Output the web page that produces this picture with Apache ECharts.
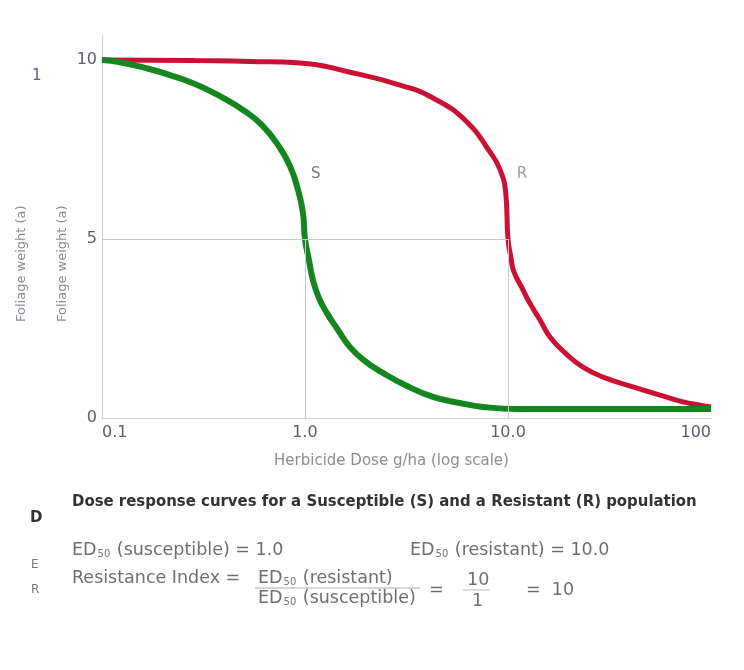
<!DOCTYPE html>
<html>
<head>
<meta charset="utf-8">
<script src="https://cdn.jsdelivr.net/npm/echarts@6/dist/echarts.min.js"></script>
<style>
html,body{margin:0;padding:0;background:#fff;}
#chart{width:744px;height:670px;}
</style>
</head>
<body>
<div id="chart"></div>
<script>
// ---- Data ----
const xTickLabels = ['0.1', '1.0', '10.0', '100'];
const yTickValues = [0, 5, 10];
const susceptibleCurve = [
  [0.1, 10.0], [0.1227, 9.94], [0.1629, 9.78], [0.2163, 9.58], [0.2871, 9.33],
  [0.381, 8.99], [0.506, 8.57], [0.614, 8.18], [0.736, 7.63], [0.843, 7.04],
  [0.924, 6.37], [0.977, 5.73], [1.0, 5.0], [1.046, 4.41], [1.095, 3.85],
  [1.172, 3.35], [1.283, 2.93], [1.454, 2.46], [1.666, 1.98], [1.975, 1.59],
  [2.423, 1.26], [3.109, 0.92], [4.271, 0.59], [5.80, 0.42], [7.53, 0.31],
  [11.07, 0.25], [28.4, 0.25], [100, 0.25]
];
const resistantCurve = [
  [0.1, 10.0], [0.2871, 9.99], [0.536, 9.96], [0.944, 9.92], [1.666, 9.66],
  [2.94, 9.30], [4.271, 8.94], [6.28, 8.27], [8.15, 7.43], [9.1, 6.96],
  [9.75, 6.28], [10.0, 5.0], [10.35, 4.47], [10.7, 4.08], [11.86, 3.58],
  [12.8, 3.21], [14.38, 2.74], [16.1, 2.26], [19.1, 1.82], [23.4, 1.42],
  [30.1, 1.12], [41.3, 0.87], [56.1, 0.64], [72.8, 0.45], [88.3, 0.36], [100, 0.31]
];
const ed50Susceptible = 1.0;
const ed50Resistant = 10.0;
const seriesLabels = ['S', 'R'];
const labelPoints = [[1.13, 6.8], [11.7, 6.8]];

const txt = '#5a5e70';
const ff = 'DejaVu Sans';
const rich = {
  sub: { fontSize: 10, fontFamily: ff, fill: '#777', padding: [8, 1, 0, 1] }
};
function t(text, x, y, extra) {
  return {
    type: 'text', x: x, y: y,
    style: Object.assign({ text: text, fontFamily: ff, fontSize: 17.5, fill: '#6e6e6e', verticalAlign: 'middle', rich: rich }, extra || {})
  };
}

const chart = echarts.init(document.getElementById('chart'));
chart.setOption({
  animation: false,
  backgroundColor: '#fff',
  grid: { left: 102, right: 33, top: 35, bottom: 252 },
  xAxis: {
    type: 'log', logBase: 10, min: 0.1, max: 100,
    name: 'Herbicide Dose g/ha (log scale)', nameLocation: 'middle', nameGap: 36,
    nameTextStyle: { fontFamily: ff, fontSize: 15, color: '#8a8a9a', padding: [0, 30, 0, 0] },
    axisLine: { lineStyle: { color: '#cfcfe0', width: 1 } },
    axisTick: { show: false },
    splitLine: { show: false },
    axisLabel: {
      fontFamily: ff, fontSize: 16, color: txt, margin: 7,
      alignMinLabel: 'left', alignMaxLabel: 'right',
      formatter: (v, i) => xTickLabels[i] !== undefined ? xTickLabels[i] : ''
    }
  },
  yAxis: {
    type: 'value', min: 0, max: 10.7, interval: 5,
    axisLine: { show: true, lineStyle: { color: '#cfcfe0', width: 1 } },
    axisTick: { show: false },
    splitLine: { show: false },
    axisLabel: {
      fontFamily: ff, fontSize: 16, color: txt, margin: 5,
      formatter: v => yTickValues.indexOf(v) >= 0 ? String(v) : ''
    }
  },
  series: [
    {
      name: 'S', type: 'line', data: susceptibleCurve, smooth: 0.5, showSymbol: false,
      lineStyle: { color: '#14861e', width: 6 }, z: 3,
      markLine: {
        silent: true, symbol: 'none', label: { show: false },
        lineStyle: { color: '#c8c8dc', width: 1, type: 'solid' },
        data: [
          [{ coord: [ed50Susceptible, 5] }, { coord: [ed50Susceptible, 0] }]
        ]
      },
      markPoint: {
        symbol: 'circle', symbolSize: 0,
        label: { show: true, formatter: seriesLabels[0], fontFamily: ff, fontSize: 15, color: '#707488' },
        data: [{ coord: labelPoints[0] }]
      }
    },
    {
      name: 'R', type: 'line', data: resistantCurve, smooth: 0.5, showSymbol: false,
      lineStyle: { color: '#cc1034', width: 5 }, z: 2,
      markLine: {
        silent: true, symbol: 'none', label: { show: false },
        lineStyle: { color: '#c8c8dc', width: 1, type: 'solid' },
        data: [
          [{ coord: [0.1, 5] }, { coord: [ed50Resistant, 5] }],
          [{ coord: [ed50Resistant, 5] }, { coord: [ed50Resistant, 0] }]
        ]
      },
      markPoint: {
        symbol: 'circle', symbolSize: 0,
        label: { show: true, formatter: seriesLabels[1], fontFamily: ff, fontSize: 15, color: '#9a9aa6' },
        data: [{ coord: labelPoints[1] }]
      }
    }
  ],
  graphic: [
    { type: 'text', x: 15, y: 322, rotation: Math.PI / 2,
      style: { text: 'Foliage weight (a)', fontFamily: ff, fontSize: 13, fill: '#8a8a96' } },
    { type: 'text', x: 56, y: 322, rotation: Math.PI / 2,
      style: { text: 'Foliage weight (a)', fontFamily: ff, fontSize: 13, fill: '#8a8a96' } },
    t('1', 32, 76, { fill: '#5a5e80', fontSize: 15 }),
    t('D', 30, 518, { fill: '#333', fontWeight: 'bold', fontSize: 15 }),
    t('E', 31, 565, { fill: '#777', fontSize: 12 }),
    t('R', 31, 590, { fill: '#777', fontSize: 12 }),
    t('Dose response curves for a Susceptible (S) and a Resistant (R) population', 72, 502,
      { fill: '#333', fontWeight: 'bold', fontSize: 16.6, fontFamily: 'DejaVu Sans Condensed' }),
    t('ED{sub|50} (susceptible) = 1.0', 72, 550),
    t('ED{sub|50} (resistant) = 10.0', 410, 550),
    t('Resistance Index =', 72, 578),
    t('ED{sub|50} (resistant)', 258, 578),
    { type: 'line', shape: { x1: 255, y1: 588, x2: 420, y2: 588 }, style: { stroke: '#aaa', lineWidth: 1 } },
    t('ED{sub|50} (susceptible)', 258, 598),
    t('=', 429, 590),
    t('10', 467, 580),
    { type: 'line', shape: { x1: 463, y1: 590, x2: 490, y2: 590 }, style: { stroke: '#bbb', lineWidth: 1 } },
    t('1', 472, 601),
    t('=  10', 526, 590)
  ]
});
</script>
</body>
</html>
